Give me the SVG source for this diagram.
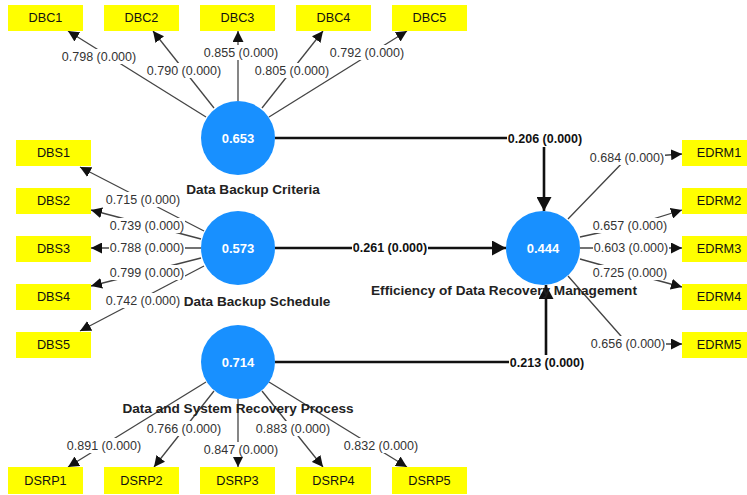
<svg xmlns="http://www.w3.org/2000/svg" width="747" height="495" viewBox="0 0 747 495">
<style>
.ind rect{fill:#ffff00}
.ind text{font-family:"Liberation Sans",Arial,sans-serif;font-size:12.7px;fill:#111;text-anchor:middle;dominant-baseline:central}
.lv circle{fill:#1890ff}
.lv .v{font-family:"Liberation Sans",Arial,sans-serif;font-size:13px;font-weight:bold;fill:#fff;text-anchor:middle;dominant-baseline:central}
.lv .n{font-family:"Liberation Sans",Arial,sans-serif;font-size:13.6px;font-weight:bold;fill:#222;text-anchor:middle;dominant-baseline:central}
.ld{fill:none;stroke:#444;stroke-width:1.3;marker-end:url(#a1)}
.st{fill:none;stroke:#111;stroke-width:2.6;marker-end:url(#a2)}
.lb rect{fill:#fff}
.lb text{font-family:"Liberation Sans",Arial,sans-serif;font-size:12.5px;fill:#333;text-anchor:middle;dominant-baseline:central}
.sb text{font-family:"Liberation Sans",Arial,sans-serif;font-size:12.5px;font-weight:bold;fill:#111;text-anchor:middle;dominant-baseline:central}
.sb rect{fill:#fff}
</style>
<defs>
<marker id="a1" markerUnits="userSpaceOnUse" markerWidth="12" markerHeight="11" refX="11" refY="5.5" orient="auto"><path d="M0,0 L11,5.5 L0,11 z" fill="#111"/></marker>
<marker id="a2" markerUnits="userSpaceOnUse" markerWidth="15" markerHeight="15" refX="14" refY="7.5" orient="auto"><path d="M0,0 L14,7.5 L0,15 z" fill="#111"/></marker>
</defs>
<g id="connectors">
<path class="ld" d="M206,117 L68,31"/>
<path class="ld" d="M214,108 L153,31"/>
<path class="ld" d="M238,101 L238,31"/>
<path class="ld" d="M262,108 L323,31"/>
<path class="ld" d="M269,117 L407,31"/>
<path class="ld" d="M204,231 L80,167"/>
<path class="ld" d="M201,239 L91,210"/>
<path class="ld" d="M201,248 L91,248"/>
<path class="ld" d="M201,258 L91,286"/>
<path class="ld" d="M204,266 L80,331"/>
<path class="ld" d="M206,382 L68,467"/>
<path class="ld" d="M214,391 L154,467"/>
<path class="ld" d="M238,399 L238,467"/>
<path class="ld" d="M262,391 L323,467"/>
<path class="ld" d="M269,382 L407,467"/>
<path class="ld" d="M568,219 L627,158 L682,154"/>
<path class="ld" d="M580,237 L630,226 L682,210"/>
<path class="ld" d="M580,248 L682,248"/>
<path class="ld" d="M580,259 L630,273 L682,287"/>
<path class="ld" d="M568,276 L628,344 L682,344"/>
<path class="st" d="M275,138 H544 V211"/>
<path class="st" d="M275,248 H506"/>
<path class="st" d="M275,362 H546 V285"/>
<g class="lb">
<rect x="61" y="49" width="76" height="15"/><text x="99" y="57">0.798 (0.000)</text>
<rect x="146" y="63" width="76" height="15"/><text x="184" y="71">0.790 (0.000)</text>
<rect x="203" y="45" width="76" height="15"/><text x="241" y="53">0.855 (0.000)</text>
<rect x="254" y="63" width="76" height="15"/><text x="292" y="71">0.805 (0.000)</text>
<rect x="329" y="45" width="76" height="15"/><text x="367" y="53">0.792 (0.000)</text>
<rect x="105" y="192" width="76" height="15"/><text x="143" y="200">0.715 (0.000)</text>
<rect x="109" y="218" width="76" height="15"/><text x="147" y="226">0.739 (0.000)</text>
<rect x="109" y="240" width="76" height="15"/><text x="147" y="248">0.788 (0.000)</text>
<rect x="109" y="265" width="76" height="15"/><text x="147" y="273">0.799 (0.000)</text>
<rect x="105" y="293" width="76" height="15"/><text x="143" y="301">0.742 (0.000)</text>
<rect x="66" y="438" width="76" height="15"/><text x="104" y="446">0.891 (0.000)</text>
<rect x="146" y="421" width="76" height="15"/><text x="184" y="429">0.766 (0.000)</text>
<rect x="203" y="442" width="76" height="15"/><text x="241" y="450">0.847 (0.000)</text>
<rect x="255" y="421" width="76" height="15"/><text x="293" y="429">0.883 (0.000)</text>
<rect x="343" y="438" width="76" height="15"/><text x="381" y="446">0.832 (0.000)</text>
<rect x="589" y="150" width="76" height="15"/><text x="627" y="158">0.684 (0.000)</text>
<rect x="592" y="218" width="76" height="15"/><text x="630" y="226">0.657 (0.000)</text>
<rect x="593" y="240" width="76" height="15"/><text x="631" y="248">0.603 (0.000)</text>
<rect x="592" y="265" width="76" height="15"/><text x="630" y="273">0.725 (0.000)</text>
<rect x="590" y="336" width="76" height="15"/><text x="628" y="344">0.656 (0.000)</text>
</g>
<g class="sb">
<rect x="507" y="131" width="76" height="16"/><text x="545" y="139">0.206 (0.000)</text>
<rect x="352" y="240" width="76" height="16"/><text x="390" y="248">0.261 (0.000)</text>
<rect x="509" y="355" width="76" height="16"/><text x="547" y="363">0.213 (0.000)</text>
</g>
</g>
<g id="DBC1" class="ind"><rect x="8" y="5" width="75" height="26"/><text x="45.5" y="18">DBC1</text></g>
<g id="DBC2" class="ind"><rect x="104" y="5" width="75" height="26"/><text x="141.5" y="18">DBC2</text></g>
<g id="DBC3" class="ind"><rect x="200" y="5" width="75" height="26"/><text x="237.5" y="18">DBC3</text></g>
<g id="DBC4" class="ind"><rect x="296" y="5" width="75" height="26"/><text x="333.5" y="18">DBC4</text></g>
<g id="DBC5" class="ind"><rect x="392" y="5" width="75" height="26"/><text x="429.5" y="18">DBC5</text></g>
<g id="DBS1" class="ind"><rect x="16" y="140" width="75" height="26"/><text x="53.5" y="153">DBS1</text></g>
<g id="DBS2" class="ind"><rect x="16" y="188" width="75" height="26"/><text x="53.5" y="201">DBS2</text></g>
<g id="DBS3" class="ind"><rect x="16" y="236" width="75" height="26"/><text x="53.5" y="249">DBS3</text></g>
<g id="DBS4" class="ind"><rect x="16" y="284" width="75" height="26"/><text x="53.5" y="297">DBS4</text></g>
<g id="DBS5" class="ind"><rect x="16" y="332" width="75" height="26"/><text x="53.5" y="345">DBS5</text></g>
<g id="DSRP1" class="ind"><rect x="8" y="467" width="75" height="27"/><text x="45.5" y="481">DSRP1</text></g>
<g id="DSRP2" class="ind"><rect x="104" y="467" width="75" height="27"/><text x="141.5" y="481">DSRP2</text></g>
<g id="DSRP3" class="ind"><rect x="200" y="467" width="75" height="27"/><text x="237.5" y="481">DSRP3</text></g>
<g id="DSRP4" class="ind"><rect x="296" y="467" width="75" height="27"/><text x="333.5" y="481">DSRP4</text></g>
<g id="DSRP5" class="ind"><rect x="392" y="467" width="75" height="27"/><text x="429.5" y="481">DSRP5</text></g>
<g id="EDRM1" class="ind"><rect x="682" y="140" width="75" height="26"/><text x="719" y="153">EDRM1</text></g>
<g id="EDRM2" class="ind"><rect x="682" y="188" width="75" height="26"/><text x="719" y="201">EDRM2</text></g>
<g id="EDRM3" class="ind"><rect x="682" y="236" width="75" height="26"/><text x="719" y="249">EDRM3</text></g>
<g id="EDRM4" class="ind"><rect x="682" y="284" width="75" height="26"/><text x="719" y="297">EDRM4</text></g>
<g id="EDRM5" class="ind"><rect x="682" y="332" width="75" height="26"/><text x="719" y="345">EDRM5</text></g>
<g id="DBC" class="lv"><circle cx="238" cy="138" r="37"/><text class="v" x="238" y="138">0.653</text><text class="n" x="253" y="189">Data Backup Criteria</text></g>
<g id="DBS" class="lv"><circle cx="238" cy="248" r="37"/><text class="v" x="238" y="248">0.573</text><text class="n" x="257" y="301">Data Backup Schedule</text></g>
<g id="DSRP" class="lv"><circle cx="238" cy="362" r="37"/><text class="v" x="238" y="362">0.714</text><text class="n" x="238" y="408">Data and System Recovery Process</text></g>
<g id="EDRM" class="lv"><circle cx="543" cy="248" r="37"/><text class="v" x="543" y="248">0.444</text><text class="n" x="504" y="290">Efficiency of Data Recovery Management</text></g>
</svg>
